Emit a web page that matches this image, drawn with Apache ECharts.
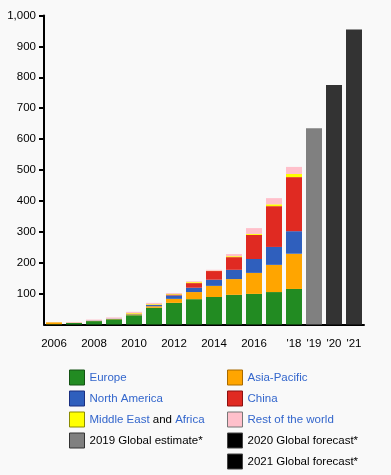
<!DOCTYPE html>
<html>
<head>
<meta charset="utf-8">
<script src="https://cdn.jsdelivr.net/npm/echarts@6/dist/echarts.min.js"></script>
<style>
html,body{margin:0;padding:0;background:#f9f9f9;}
#c{width:391px;height:475px;}
</style>
</head>
<body>
<div id="c"></div>
<script>
const years = ['2006','2007','2008','2009','2010','2011','2012','2013','2014','2015','2016','2017','2018','2019','2020','2021'];
const xTickLabels = ['2006','','2008','','2010','','2012','','2014','','2016','',"'18","'19","'20","'21"];
const yTicks = [100,200,300,400,500,600,700,800,900,1000];

const europe       = [1, 5, 11, 17, 30, 54, 70, 82, 89, 96, 99, 105, 115, '-', '-', '-'];
const asiaPacific  = [6, 1, 1, 1, 3, 5, 13, 23, 36, 51, 68, 88, 114, '-', '-', '-'];
const northAmerica = [0, 0, 1, 1, 1, 4, 11, 14, 20, 30, 45, 58, 73, '-', '-', '-'];
const china        = [0, 0, 0, 0, 1, 1, 3, 15, 28, 41, 78, 132, 175, '-', '-', '-'];
const middleEastAfrica = [0, 0, 0, 0, 2, 2, 2, 3, 1, 3, 3, 6, 10, '-', '-', '-'];
const restOfWorld  = [0, 2, 3, 4, 4, 4, 3, 3, 3, 7, 19, 20, 23, '-', '-', '-'];
const estimate2019 = ['-','-','-','-','-','-','-','-','-','-','-','-','-', 635, '-', '-'];
const forecast2020 = ['-','-','-','-','-','-','-','-','-','-','-','-','-', '-', 775, '-'];
const forecast2021 = ['-','-','-','-','-','-','-','-','-','-','-','-','-', '-', '-', 955];

const FONT = '"Liberation Sans", Arial, sans-serif';
const LINK = '#3366cc';

function bar(name, data, color) {
  return { name, type: 'bar', stack: 'total', data, barWidth: 16,
    itemStyle: { color }, emphasis: { disabled: true } };
}

const chart = echarts.init(document.getElementById('c'), null, { renderer: 'canvas' });
chart.setOption({
  animation: false,
  backgroundColor: '#f9f9f9',
  textStyle: { fontFamily: FONT },
  grid: { left: 44, right: 27, top: 15.5, bottom: 150.5, containLabel: false },
  xAxis: {
    type: 'category', data: years, boundaryGap: true,
    axisLine: { lineStyle: { color: '#000', width: 2 } },
    axisTick: { alignWithLabel: true, length: 9, lineStyle: { color: '#000', width: 1 },
      interval: (i) => xTickLabels[i] !== '' },
    axisLabel: { interval: 0, margin: 13, color: '#000', fontSize: 11.5, fontFamily: FONT,
      formatter: (v, i) => xTickLabels[i] }
  },
  yAxis: {
    type: 'value', min: 0, max: 1000, interval: 100,
    axisLine: { show: true, lineStyle: { color: '#000', width: 2 } },
    axisTick: { show: true, length: 5, customValues: yTicks, lineStyle: { color: '#000', width: 2 } },
    axisLabel: { margin: 8, color: '#000', fontSize: 11.5, fontFamily: FONT, customValues: yTicks,
      formatter: (v) => v === 0 ? '' : v.toLocaleString('en-US') },
    splitLine: { show: false }
  },
  legend: [
    {
      orient: 'vertical', left: 69, top: 369.5, padding: 0, itemWidth: 15, itemHeight: 15, itemGap: 5,
      icon: 'rect', selectedMode: false,
      textStyle: { fontFamily: FONT, fontSize: 11.5, lineHeight: 15, color: LINK,
        rich: { l: { color: LINK, fontSize: 11.5, lineHeight: 15, fontFamily: FONT }, k: { color: '#000', fontSize: 11.5, lineHeight: 15, fontFamily: FONT } } },
      formatter: (n) => n === 'Middle East and Africa' ? '{l|Middle East} {k|and} {l|Africa}' : n,
      data: [
        { name: 'Europe', itemStyle: { borderColor: '#145214', borderWidth: 1 } },
        { name: 'North America', itemStyle: { borderColor: '#1a2f80', borderWidth: 1 } },
        { name: 'Middle East and Africa', itemStyle: { borderColor: '#8a8a00', borderWidth: 1 } },
        { name: '2019 Global estimate*', itemStyle: { borderColor: '#333', borderWidth: 1 }, textStyle: { color: '#000' } }
      ]
    },
    {
      orient: 'vertical', left: 227, top: 369.5, padding: 0, itemWidth: 15, itemHeight: 15, itemGap: 5,
      icon: 'rect', selectedMode: false,
      textStyle: { fontFamily: FONT, fontSize: 11.5, lineHeight: 15, color: LINK },
      data: [
        { name: 'Asia-Pacific', itemStyle: { borderColor: '#a86a00', borderWidth: 1 } },
        { name: 'China', itemStyle: { borderColor: '#8a1010', borderWidth: 1 } },
        { name: 'Rest of the world', itemStyle: { borderColor: '#777', borderWidth: 1 } },
        { name: '2020 Global forecast*', itemStyle: { color: '#000', borderColor: '#444', borderWidth: 1 }, textStyle: { color: '#000' } },
        { name: '2021 Global forecast*', itemStyle: { color: '#000', borderColor: '#444', borderWidth: 1 }, textStyle: { color: '#000' } }
      ]
    }
  ],
  series: [
    bar('Europe', europe, '#228b22'),
    bar('Asia-Pacific', asiaPacific, '#ffa500'),
    bar('North America', northAmerica, '#2f5fbd'),
    bar('China', china, '#e02a22'),
    bar('Middle East and Africa', middleEastAfrica, '#ffff00'),
    bar('Rest of the world', restOfWorld, '#ffc0cb'),
    bar('2019 Global estimate*', estimate2019, '#808080'),
    bar('2020 Global forecast*', forecast2020, '#333333'),
    bar('2021 Global forecast*', forecast2021, '#333333')
  ]
});
</script>
</body>
</html>
